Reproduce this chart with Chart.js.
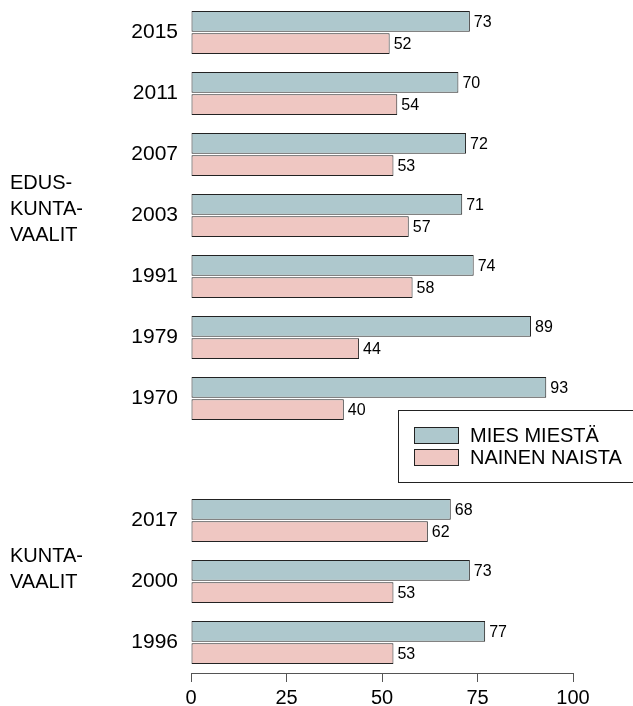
<!DOCTYPE html>
<html>
<head>
<meta charset="utf-8">
<script src="https://cdn.jsdelivr.net/npm/chart.js@4/dist/chart.umd.min.js"></script>
<style>
  body { margin: 0; background: #fff; }
  #wrap { width: 633px; height: 706px; position: relative; }
</style>
</head>
<body>
<div id="wrap"><canvas id="chart"></canvas></div>
<script>
// years top to bottom, '' is the empty slot between the two groups
const years = ['2015', '2011', '2007', '2003', '1991', '1979', '1970', '', '2017', '2000', '1996'];
const men = [73, 70, 72, 71, 74, 89, 93, null, 68, 73, 77];
const women = [52, 54, 53, 57, 58, 44, 40, null, 62, 53, 53];
const seriesNames = ['MIES MIESTÄ', 'NAINEN NAISTA'];
const xTicks = [0, 25, 50, 75, 100];
const groups = [
  { lines: ['EDUS-', 'KUNTA-', 'VAALIT'], row: 3, shift: -6 },
  { lines: ['KUNTA-', 'VAALIT'], row: 9, shift: -12 }
];

const blue = '#aec8cd';
const pink = '#efc7c2';
const edge = '#222222';
const font = 'Arial, "Liberation Sans", sans-serif';

// numbers after each bar
const valueLabels = {
  id: 'valueLabels',
  afterDatasetsDraw(chart) {
    const ctx = chart.ctx;
    ctx.save();
    ctx.font = '16px ' + font;
    ctx.fillStyle = '#000';
    ctx.textAlign = 'left';
    ctx.textBaseline = 'middle';
    chart.data.datasets.forEach((ds, i) => {
      chart.getDatasetMeta(i).data.forEach((bar, j) => {
        if (ds.data[j] == null) return;
        ctx.fillText(String(ds.data[j]), bar.x + 4, bar.y + 1);
      });
    });
    ctx.restore();
  }
};

// group names on the far left
const groupLabels = {
  id: 'groupLabels',
  afterDraw(chart) {
    const ctx = chart.ctx;
    const y = chart.scales.y;
    ctx.save();
    ctx.font = '20px ' + font;
    ctx.fillStyle = '#000';
    ctx.textAlign = 'left';
    ctx.textBaseline = 'middle';
    groups.forEach(g => {
      const mid = y.getPixelForValue(g.row) + g.shift;
      const top = mid - (g.lines.length - 1) * 26 / 2;
      g.lines.forEach((t, k) => ctx.fillText(t, 10, top + k * 26));
    });
    ctx.restore();
  }
};

// boxed legend in the empty slot, running off the right edge
const boxLegend = {
  id: 'boxLegend',
  afterDraw(chart) {
    const ctx = chart.ctx;
    const cy = chart.scales.y.getPixelForValue(7);
    const top = Math.round(cy - 49);
    ctx.save();
    ctx.strokeStyle = edge;
    ctx.lineWidth = 1;
    ctx.strokeRect(398.5, top + 0.5, 260, 72);
    ctx.font = '20px ' + font;
    ctx.textAlign = 'left';
    ctx.textBaseline = 'middle';
    chart.data.datasets.forEach((ds, i) => {
      const sy = top + 17 + i * 22;
      ctx.fillStyle = ds.backgroundColor;
      ctx.fillRect(414.5, sy + 0.5, 44, 16);
      ctx.strokeStyle = edge;
      ctx.strokeRect(414.5, sy + 0.5, 44, 16);
      ctx.fillStyle = '#000';
      ctx.fillText(ds.label, 470, sy + 9);
    });
    ctx.restore();
  }
};

new Chart(document.getElementById('chart'), {
  type: 'bar',
  data: {
    labels: years,
    datasets: [
      { label: seriesNames[0], data: men, backgroundColor: blue, borderColor: edge, borderWidth: 1, borderSkipped: false },
      { label: seriesNames[1], data: women, backgroundColor: pink, borderColor: edge, borderWidth: 1, borderSkipped: false }
    ]
  },
  options: {
    indexAxis: 'y',
    responsive: true,
    maintainAspectRatio: false,
    animation: false,
    categoryPercentage: 0.73,
    barPercentage: 0.93,
    layout: { padding: { top: 2, right: 60, left: 0, bottom: 0 } },
    plugins: {
      legend: { display: false },
      tooltip: { enabled: false }
    },
    scales: {
      x: {
        min: 0,
        max: 100,
        afterBuildTicks: s => { s.ticks = xTicks.map(v => ({ value: v })); },
        afterFit: s => { s.height = 33; s.paddingLeft = 0; s.paddingRight = 0; },
        ticks: { font: { family: font, size: 20 }, color: '#000', padding: 4 },
        grid: { drawOnChartArea: false, drawTicks: true, tickLength: 9, color: '#555' },
        border: { display: true, color: '#555', width: 1 }
      },
      y: {
        afterFit: s => { s.width = 191; s.paddingTop = 0; s.paddingBottom = 0; },
        ticks: { font: { family: font, size: 21 }, color: '#000', padding: 13 },
        grid: { display: false, drawTicks: false },
        border: { display: false }
      }
    }
  },
  plugins: [valueLabels, groupLabels, boxLegend]
});
</script>
</body>
</html>
